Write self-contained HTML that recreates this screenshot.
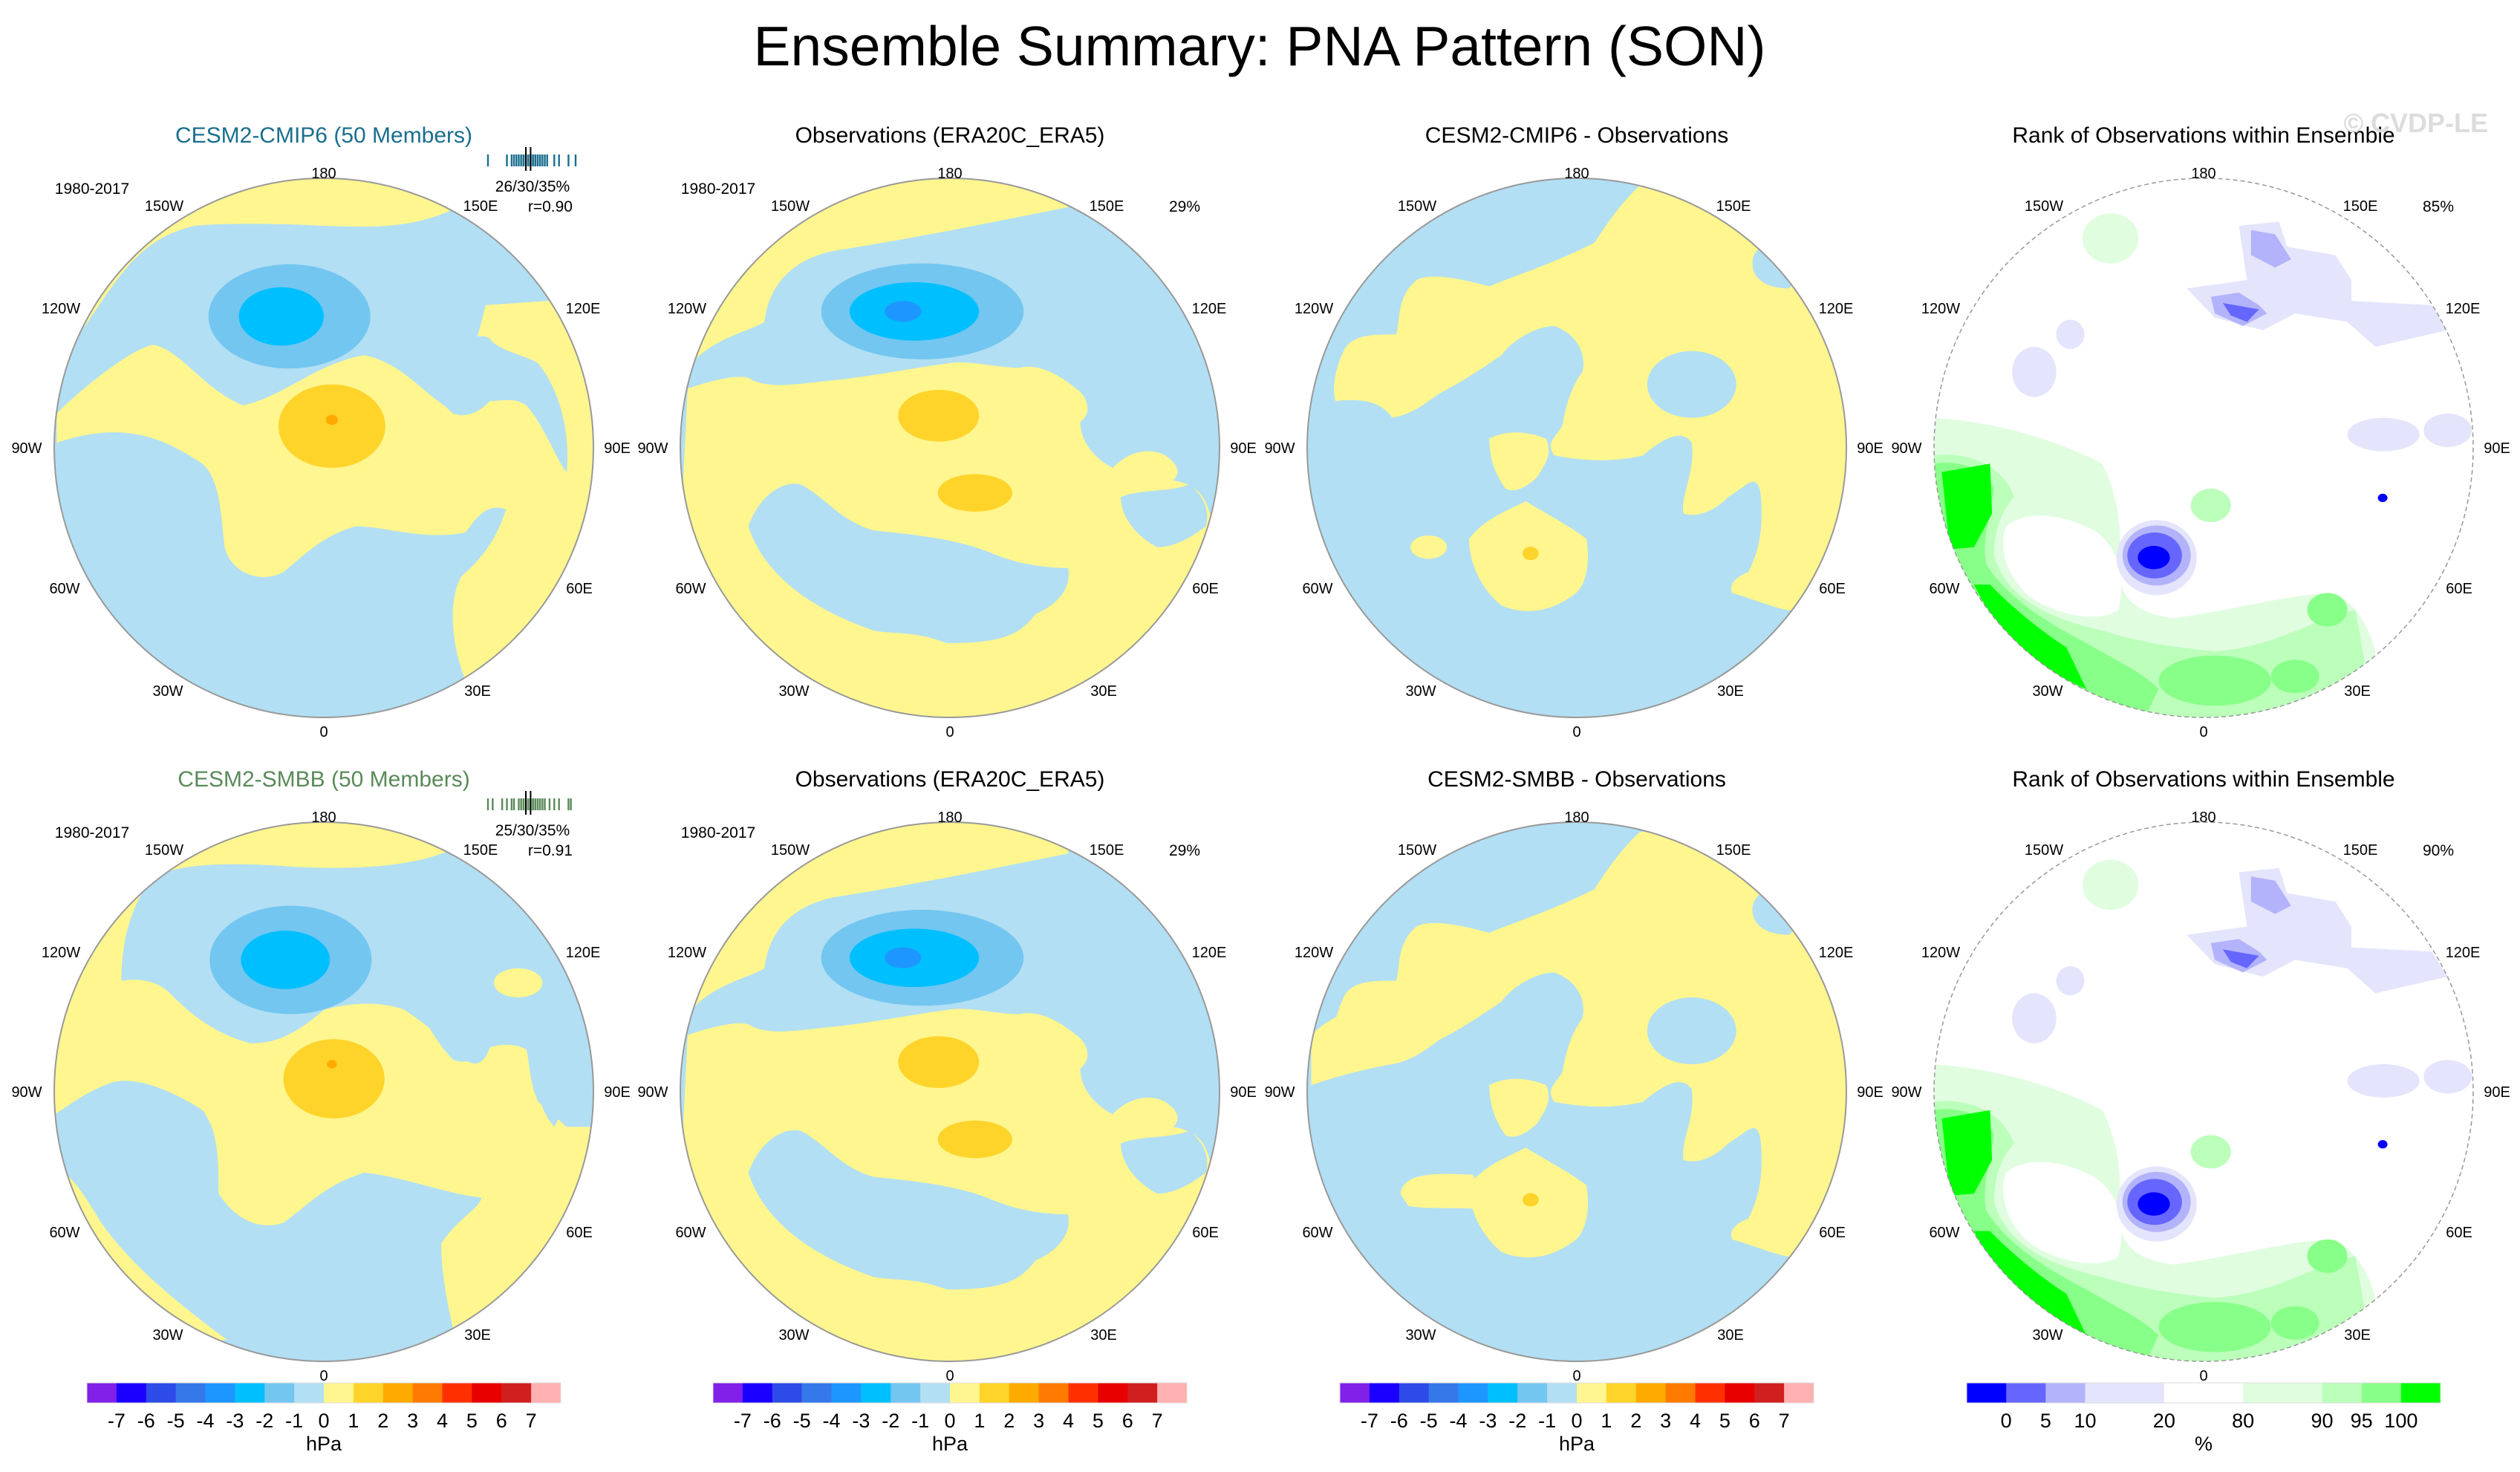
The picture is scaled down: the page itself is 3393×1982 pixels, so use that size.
<!DOCTYPE html>
<html><head><meta charset="utf-8"><style>
html,body{margin:0;padding:0;background:#fff;}
svg{display:block;font-family:"Liberation Sans",Arial,sans-serif;}
</style></head><body>
<svg id="fig" width="3393" height="1982" viewBox="0 0 3393 1982" xmlns="http://www.w3.org/2000/svg">
<rect width="3393" height="1982" fill="#fff"/>
<text x="1696" y="88" font-size="75" text-anchor="middle" fill="#000">Ensemble Summary: PNA Pattern (SON)</text>
<g id="panels"></g>
<g id="bars"></g>
</svg>
<script>
// ---- colorbar data ----
const hpaLabels = [-7,-6,-5,-4,-3,-2,-1,0,1,2,3,4,5,6,7];
const hpaColors = ['#8020e8','#1a00ff','#2d4be8','#3478ea','#1e96ff','#00bfff','#73c6f0','#b2dff3','#fff68f','#ffd42a','#ffaa00','#ff7a00','#ff3000','#e80000','#d11f1f','#ffb0b0'];
const rankLabels = ['0','5','10','20','80','90','95','100'];
const rankColors = ['#0000ff','#6666ff','#b3b3fb','#e4e4fc','#ffffff','#e0fde0','#bbffbb','#88ff88','#00ff00'];
const rankUnits = [1,1,1,2,2,2,1,1,1];
// ---- ensemble member pattern correlation ticks (approx) ----
const membersA = [0.70,0.78,0.80,0.81,0.82,0.83,0.84,0.85,0.85,0.86,0.86,0.87,0.87,0.88,0.88,0.89,0.89,0.90,0.90,0.91,0.91,0.92,0.92,0.93,0.94,0.95,0.98,1.00,1.04,1.07];
const membersB = [0.70,0.72,0.76,0.78,0.80,0.81,0.83,0.84,0.85,0.86,0.86,0.87,0.87,0.88,0.88,0.89,0.89,0.90,0.90,0.91,0.91,0.92,0.93,0.94,0.96,0.98,1.00,1.04,1.05];

const NS='http://www.w3.org/2000/svg';
function mk(tag, attrs, parent){const e=document.createElementNS(NS,tag);for(const k in attrs)e.setAttribute(k,attrs[k]);if(parent)parent.appendChild(e);return e;}

const BL='#b2dff3',YE='#fff68f',OR='#ffd42a',DO='#ffaa00',MB='#73c6f0',CY='#00bfff',DB='#1e96ff';
const G1='#e0fde0',G2='#bbffbb',G3='#88ff88',G4='#00ff00',B1='#e4e4fc',B2='#b3b3fb',B3='#6666ff',B4='#0000ff';

const P1=[
 {f:YE,d:'M100,100 L1110,100 L1110,275 C1000,320 900,312 800,310 C650,302 520,305 480,310 C350,340 300,420 210,550 L100,560 Z'},
 {f:YE,d:'M140,760 C200,700 330,600 380,595 C450,610 500,700 600,740 C700,720 780,640 900,620 C1000,640 1050,720 1130,760 L1200,500 L1500,480 L1500,1420 L1150,1400 C1110,1300 1110,1200 1140,1150 C1200,1100 1230,1050 1250,990 C1200,970 1170,1020 1150,1045 C1050,1065 950,1030 880,1030 C800,1050 750,1100 700,1140 C640,1170 570,1140 555,1080 C545,1000 545,920 500,880 C420,830 320,770 140,830 Z'},
 {f:BL,d:'M1040,620 C1100,600 1180,560 1210,580 C1230,610 1300,620 1330,640 C1380,700 1410,800 1400,900 C1380,880 1340,780 1300,740 C1270,720 1240,730 1210,730 C1180,760 1150,770 1120,760 C1080,730 1060,680 1040,620 Z'},
 {f:MB,e:[715,527,200,125]},{f:CY,e:[695,527,105,70]},
 {f:OR,e:[820,790,132,100]},{f:DO,e:[820,775,15,12]}
];
const P2=[
 {f:YE,d:'M100,100 L1080,100 L1080,265 C900,300 700,340 500,370 C400,390 340,450 330,540 C300,560 200,580 150,640 L100,700 Z'},
 {f:YE,d:'M140,700 C200,680 280,660 300,680 C350,700 400,690 500,680 C600,670 700,650 780,640 C830,630 900,650 960,650 C1000,640 1050,660 1100,700 C1130,720 1140,760 1110,780 C1110,830 1150,870 1190,890 C1230,850 1280,840 1320,860 C1350,880 1360,900 1340,920 C1400,930 1420,960 1430,1000 L1460,1000 L1500,1500 L100,1500 Z'},
 {f:BL,d:'M290,1030 C320,950 380,920 420,930 C480,960 520,1020 600,1040 C700,1050 800,1060 880,1090 C950,1120 1020,1130 1080,1130 C1090,1180 1050,1220 1000,1240 C960,1290 920,1310 780,1310 C700,1280 660,1290 600,1280 C450,1230 330,1150 290,1030 Z'},
 {f:BL,d:'M1210,960 C1260,940 1320,950 1380,930 C1420,960 1430,1000 1420,1030 C1380,1060 1340,1080 1300,1080 C1240,1050 1210,1000 1210,960 Z'},
 {f:MB,e:[720,515,250,115]},{f:CY,e:[700,515,160,70]},{f:DB,e:[672,515,45,25]},
 {f:OR,e:[760,765,100,62]},{f:OR,e:[850,950,92,45]}
];
const P3=[
 {f:YE,d:'M930,215 C880,260 840,320 820,350 C720,400 620,430 560,455 C500,440 420,420 380,440 C330,480 340,540 330,570 C270,570 220,570 200,610 C180,650 170,700 180,730 C260,720 300,740 320,770 C380,760 420,720 440,710 C500,680 560,640 590,620 C620,580 680,550 720,550 C780,570 800,620 790,660 C760,700 750,740 740,790 C720,820 700,830 720,860 C820,880 900,870 940,860 C1000,810 1040,800 1060,830 C1070,900 1030,960 1040,1000 C1080,1010 1120,990 1150,960 C1200,930 1220,900 1230,950 C1240,1050 1220,1100 1200,1140 C1170,1150 1150,1170 1160,1190 C1230,1210 1300,1240 1320,1230 L1480,1100 L1480,300 L1300,460 C1250,460 1210,440 1210,400 C1210,380 1220,370 1230,360 L1200,150 Z'},
 {f:BL,e:[1060,690,110,80]},
 {f:YE,d:'M560,820 C600,800 650,800 700,820 C720,860 690,890 680,910 C650,940 620,950 600,940 C570,900 560,860 560,820 Z'},
 {f:YE,d:'M510,1060 C550,1010 610,990 650,970 C700,1000 760,1030 800,1060 C810,1120 800,1180 760,1200 C700,1240 640,1240 590,1220 C540,1180 510,1120 510,1060 Z'},
 {f:YE,e:[410,1080,45,28]},{f:OR,e:[662,1095,20,16]}
];
const P4=[
 {f:G1,e:[540,340,70,60]},
 {f:B1,d:'M860,310 L960,300 L980,360 L1100,380 L1140,440 L1140,490 L1340,500 L1380,560 L1200,600 L1130,540 L1000,520 L920,560 L800,530 L730,460 L880,440 Z'},
 {f:B2,d:'M890,320 L950,330 L990,390 L950,410 L890,380 Z'},
 {f:B2,d:'M790,480 L860,470 L910,500 L930,520 L870,550 L800,520 Z'},
 {f:B3,d:'M820,495 L910,510 L880,540 L840,525 Z'},
 {f:B1,e:[350,660,55,60]},{f:B1,e:[440,570,35,35]},{f:B1,e:[1380,800,60,40]},{f:B1,e:[1220,810,90,40]},
 {f:B4,e:[1218,962,12,10]},
 {f:G1,d:'M100,770 C250,780 400,820 520,880 C560,960 570,1040 560,1120 C560,1200 600,1240 700,1250 C850,1230 1000,1190 1100,1190 C1150,1220 1180,1260 1200,1330 L1200,1500 L100,1500 Z'},
 {f:'#ffffff',d:'M280,1030 C330,990 420,1000 500,1040 C560,1080 580,1150 560,1230 C520,1260 420,1250 340,1200 C280,1150 260,1080 280,1030 Z'},
 {f:G2,e:[790,980,50,40]},
 {f:G2,d:'M100,860 C180,850 270,880 300,960 C270,990 250,1040 250,1100 C280,1200 380,1250 520,1280 C620,1310 700,1320 800,1330 C950,1320 1050,1250 1150,1230 L1200,1500 L100,1500 Z'},
 {f:G3,d:'M100,880 C160,870 230,890 250,940 C240,1000 220,1060 230,1120 C280,1200 380,1260 480,1310 C550,1350 620,1380 660,1420 L620,1500 L100,1500 Z'},
 {f:G3,e:[800,1400,140,60]},{f:G3,e:[1080,1230,50,40]},{f:G3,e:[1000,1390,60,40]},
 {f:G4,d:'M120,900 L240,880 L245,1000 L200,1080 L140,1085 Z'},
 {f:G4,d:'M200,1170 L240,1170 C300,1230 380,1290 430,1320 L480,1420 C360,1370 260,1290 200,1170 Z'},
 {f:B1,e:[655,1105,100,90]},{f:B2,e:[655,1100,85,72]},{f:B3,e:[650,1100,68,55]},{f:B4,e:[648,1105,40,28]}
];
const P5=[
 {f:YE,d:'M100,100 L1100,100 L1100,262 C1000,300 850,305 700,295 C550,285 420,290 370,330 C320,400 300,480 300,570 C360,560 400,580 420,600 C480,660 540,700 620,720 C700,720 750,680 800,640 C870,620 950,620 1000,640 C1060,680 1110,720 1150,760 C1180,780 1200,760 1210,730 C1240,710 1280,720 1300,730 C1310,780 1310,820 1330,860 L1400,920 L1500,920 L1500,1500 L1140,1500 C1120,1400 1090,1300 1090,1200 C1130,1140 1180,1120 1190,1090 C1100,1080 1000,1040 900,1030 C800,1060 760,1110 700,1150 C640,1170 580,1140 540,1080 C540,1000 540,930 500,880 C420,830 320,790 260,820 C180,850 140,900 100,900 Z'},
 {f:YE,d:'M100,1000 C170,1020 200,1070 250,1150 C330,1260 450,1350 560,1430 L100,1500 Z'},
 {f:BL,d:'M1020,600 C1100,580 1180,560 1230,540 C1330,540 1370,570 1380,590 C1420,640 1440,700 1420,760 C1400,860 1380,900 1370,920 C1330,880 1320,800 1310,740 C1280,720 1240,720 1210,730 C1180,760 1150,770 1120,760 C1080,720 1050,670 1020,600 Z'},
 {f:YE,e:[1280,575,60,35]},
 {f:MB,e:[718,520,200,130]},{f:CY,e:[705,520,110,70]},
 {f:OR,e:[825,805,125,95]},{f:DO,e:[820,770,12,10]}
];
const P7=P3.concat([{f:YE,d:'M340,1080 C350,1030 420,1030 520,1035 L560,1120 C480,1110 420,1120 360,1110 Z'},{f:YE,d:'M120,700 C200,620 400,580 520,620 C460,700 380,720 320,770 C260,780 180,800 120,820 Z'}]);

const lonNames=['180','150W','150E','120W','120E','90W','90E','60W','60E','30W','30E','0'];
const lonOff=[[0,-370],[-215,-326],[211,-326],[-354,-188],[349,-188],[-400,0],[395,0],[-349,189],[344,189],[-210,327],[207,327],[0,382]];

const panels=[
 {id:'cesm2-cmip6-mean',cx:436,cy:603,fx:1.835,czx:800,czy:842,sh:P1,title:'CESM2-CMIP6 (50 Members)',tcol:'#1a6e8e',yrs:true,stats:['26/30/35%','r=0.90'],mem:membersA,mcol:'#1a6e8e'},
 {id:'observations-top',cx:1279,cy:603,fx:1.835,czx:788,czy:842,sh:P2,title:'Observations (ERA20C_ERA5)',tcol:'#000',yrs:true,pct:'29%'},
 {id:'cmip6-minus-obs',cx:2123,cy:603,fx:1.835,czx:776,czy:842,sh:P3,title:'CESM2-CMIP6 - Observations',tcol:'#000'},
 {id:'rank-top',cx:2967,cy:603,fx:1.85,czx:772,czy:842,sh:P4,title:'Rank of Observations within Ensemble',tcol:'#000',pct:'85%',rank:true,wm:true},
 {id:'cesm2-smbb-mean',cx:436,cy:1470,fx:1.835,czx:800,czy:836,sh:P5,title:'CESM2-SMBB (50 Members)',tcol:'#5a8a5a',yrs:true,stats:['25/30/35%','r=0.91'],mem:membersB,mcol:'#5a8a5a'},
 {id:'observations-bottom',cx:1279,cy:1470,fx:1.835,czx:788,czy:836,sh:P2,title:'Observations (ERA20C_ERA5)',tcol:'#000',yrs:true,pct:'29%'},
 {id:'smbb-minus-obs',cx:2123,cy:1470,fx:1.835,czx:776,czy:836,sh:P7,title:'CESM2-SMBB - Observations',tcol:'#000'},
 {id:'rank-bottom',cx:2967,cy:1470,fx:1.85,czx:772,czy:836,sh:P4,title:'Rank of Observations within Ensemble',tcol:'#000',pct:'90%',rank:true}
];

const root=document.getElementById('panels');
const defs=mk('defs',{},root);
const R=363;
panels.forEach((p,i)=>{
  const g=mk('g',{},root);
  
  
  const cp=mk('clipPath',{id:'clip'+i},defs);
  mk('circle',{cx:p.cx,cy:p.cy,r:R},cp);
  const map=mk('g',{'clip-path':'url(#clip'+i+')'},g);
  
  
  mk('circle',{cx:p.cx,cy:p.cy,r:R,fill:p.rank?'#ffffff':BL},map);
  const inner=mk('g',{transform:`translate(${p.cx},${p.cy}) scale(${1/p.fx},${1/1.78}) translate(${-p.czx},${-p.czy})`},map);
  p.sh.forEach(s=>{
    let el;
    if(s.e) el=mk('ellipse',{cx:s.e[0],cy:s.e[1],rx:s.e[2],ry:s.e[3],fill:s.f},inner);
    else el=mk('path',{d:s.d,fill:s.f},inner);
    
    
  });
  const bd=mk('circle',{cx:p.cx,cy:p.cy,r:R,fill:'none',stroke:'#999','stroke-width':p.rank?1.5:2,'stroke-dasharray':p.rank?'6 4':'none'},g);
  
  
  const t=mk('text',{x:p.cx,y:p.cy-411,'font-size':30,'text-anchor':'middle',fill:p.tcol},g);
  t.textContent=p.title;
  
  
  lonNames.forEach((n,k)=>{
    const l=mk('text',{x:p.cx+lonOff[k][0],y:p.cy+lonOff[k][1]+7,'font-size':20,'text-anchor':'middle',fill:'#000'},g);
    l.textContent=n;
    
    
  });
  if(p.yrs){
    const y=mk('text',{x:p.cx-312,y:p.cy-342,'font-size':21,'text-anchor':'middle',fill:'#000'},g);
    y.textContent='1980-2017';
    
    
  }
  if(p.pct){
    const q=mk('text',{x:p.cx+316,y:p.cy-318,'font-size':21,'text-anchor':'middle',fill:'#000'},g);
    q.textContent=p.pct;
    
    
  }
  if(p.stats){
    const s1=mk('text',{x:p.cx+281,y:p.cy-345,'font-size':21,'text-anchor':'middle',fill:'#000'},g);
    s1.textContent=p.stats[0];
    
    
    const s2=mk('text',{x:p.cx+335,y:p.cy-318,'font-size':21,'text-anchor':'end',fill:'#000'},g);
    s2.textContent=p.stats[1];
    
    
    const x0=p.cx+221,x1=p.cx+339,v0=0.70,v1=1.07;
    const xs=v=>x0+(v-v0)/(v1-v0)*(x1-x0);
    p.mem.forEach(v=>{
      const m=mk('rect',{x:xs(v)-1.2,y:p.cy-395,width:2.4,height:16,fill:p.mcol},g);
      
      
    });
    [0.86,0.88].forEach(v=>{
      const m=mk('rect',{x:xs(v)-1,y:p.cy-405,width:2,height:32,fill:'#000'},g);
      
      
    });
  }
  if(p.wm){
    const w=mk('text',{x:p.cx+383,y:p.cy-425,'font-size':36,'font-weight':'bold','text-anchor':'end',fill:'#dcdcdc'},g);
    w.textContent='© CVDP-LE';
    
    
  }
});

// ---- colorbars ----
const bars=document.getElementById('bars');
const BY=1862,BH=27;
[436,1279,2123].forEach((cx,j)=>{
  const g=mk('g',{},bars);
  
  
  const W=638,x0=cx-W/2,bw=W/hpaColors.length;
  hpaColors.forEach((c,k)=>{
    const r=mk('rect',{x:x0+k*bw,y:BY,width:bw+0.5,height:BH,fill:c},g);
    
    
  });
  mk('rect',{x:x0,y:BY,width:W,height:BH,fill:'none',stroke:'#ddd','stroke-width':1},g);
  hpaLabels.forEach((v,k)=>{
    const t=mk('text',{x:x0+(k+1)*bw,y:BY+60,'font-size':27,'text-anchor':'middle',fill:'#000'},g);
    t.textContent=String(v);
    
    
  });
  const u=mk('text',{x:cx,y:BY+91,'font-size':27,'text-anchor':'middle',fill:'#000'},g);
  u.textContent='hPa';
  
  
});
(function(){
  const g=mk('g',{},bars);
  
  
  const W=638,x0=2967-W/2,tot=rankUnits.reduce((a,b)=>a+b,0),uw=W/tot;
  let x=x0;const edges=[];
  rankColors.forEach((c,k)=>{
    const r=mk('rect',{x:x,y:BY,width:rankUnits[k]*uw+0.5,height:BH,fill:c},g);
    
    
    x+=rankUnits[k]*uw;edges.push(x);
  });
  mk('rect',{x:x0,y:BY,width:W,height:BH,fill:'none',stroke:'#ddd','stroke-width':1},g);
  rankLabels.forEach((v,k)=>{
    const t=mk('text',{x:edges[k],y:BY+60,'font-size':27,'text-anchor':'middle',fill:'#000'},g);
    t.textContent=v;
    
    
  });
  const u=mk('text',{x:2967,y:BY+91,'font-size':27,'text-anchor':'middle',fill:'#000'},g);
  u.textContent='%';
  
  
})();
</script>
</body></html>
